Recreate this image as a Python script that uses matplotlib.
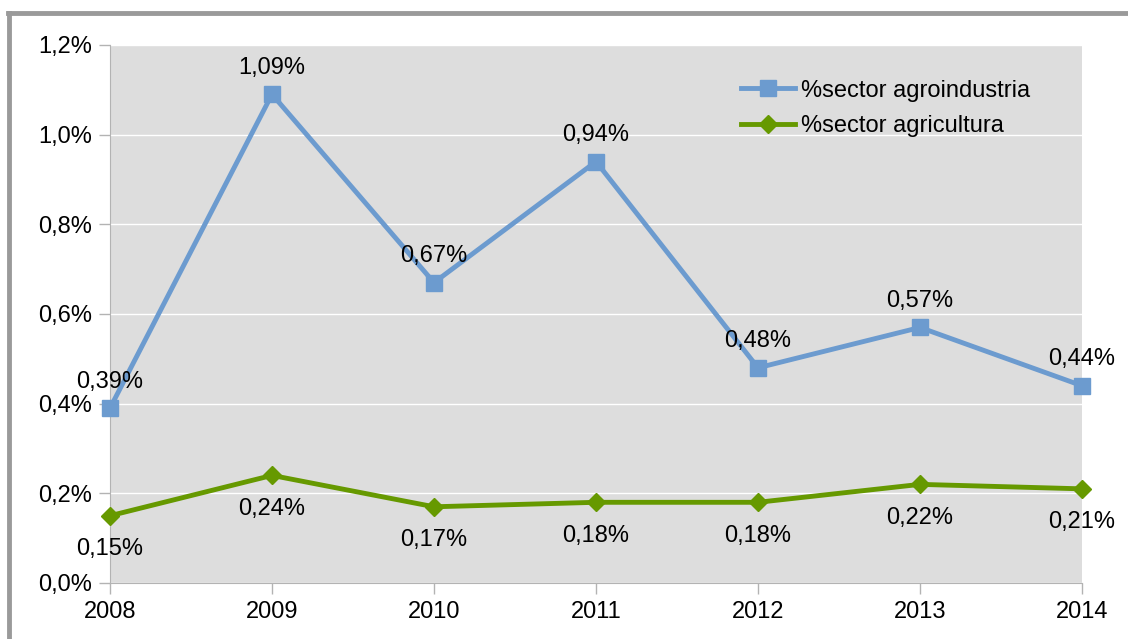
import numpy as np
import matplotlib.pyplot as plt
from matplotlib.lines import Line2D

plt.rcParams['font.family'] = ['Liberation Sans', 'DejaVu Sans']

years = [2008, 2009, 2010, 2011, 2012, 2013, 2014]
agroindustria = [0.39, 1.09, 0.67, 0.94, 0.48, 0.57, 0.44]
agricultura = [0.15, 0.24, 0.17, 0.18, 0.18, 0.22, 0.21]
yticks = [0.0, 0.2, 0.4, 0.6, 0.8, 1.0, 1.2]

blue = '#6c9bcf'
green = '#669900'
fs = 17

def pct(v, dec):
    return ('%.*f%%' % (dec, v)).replace('.', ',')

fig = plt.figure(figsize=(11.28, 6.39), dpi=100)
# outer frame (top and left only visible)
fig.add_artist(Line2D([8 / 1128, 1.0], [1 - 13 / 639] * 2, color='#9a9a9a', lw=3.5))
fig.add_artist(Line2D([8.5 / 1128] * 2, [0, 1 - 13 / 639], color='#9a9a9a', lw=3.5))

ax = fig.add_axes([110 / 1128, 1 - 583 / 639, 972 / 1128, 538 / 639])
ax.set_facecolor('#dddddd')
ax.set_xlim(2008, 2014)
ax.set_ylim(0, 1.2)
ax.set_yticks(yticks)
ax.set_yticklabels([pct(t, 1) for t in yticks])
ax.set_xticks(years)
ax.set_xticklabels([str(y) for y in years])
ax.yaxis.grid(True, color='white', lw=1)
ax.set_axisbelow(True)
for s in ['top', 'right']:
    ax.spines[s].set_visible(False)
for s in ['left', 'bottom']:
    ax.spines[s].set_color('#b3b3b3')
ax.tick_params(axis='both', colors='#b3b3b3', length=8, width=1, labelsize=fs,
               labelcolor='black')
ax.tick_params(axis='y', pad=5)
ax.tick_params(axis='x', pad=5)

ax.plot(years, agroindustria, color=blue, lw=3.5, marker='s', ms=12,
        clip_on=False, zorder=3, label='%sector agroindustria')
ax.plot(years, agricultura, color=green, lw=3.5, marker='D', ms=9,
        clip_on=False, zorder=3, label='%sector agricultura')

for x, v in zip(years, agroindustria):
    ax.annotate(pct(v, 2), (x, v), xytext=(0, 19), textcoords='offset points',
                ha='center', va='center', fontsize=fs)
for x, v in zip(years, agricultura):
    ax.annotate(pct(v, 2), (x, v), xytext=(0, -24), textcoords='offset points',
                ha='center', va='center', fontsize=fs)

ax.legend(loc='upper left', bbox_to_anchor=(0.627, 0.975), frameon=False,
          fontsize=fs, handlelength=2.3, labelspacing=0.58, handletextpad=0.25)

fig.savefig('out.png', dpi=100)
